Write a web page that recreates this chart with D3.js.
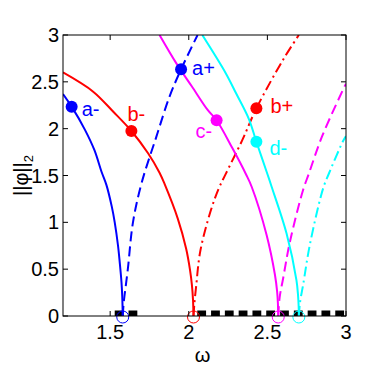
<!DOCTYPE html>
<html>
<head>
<meta charset="utf-8">
<script src="https://cdn.jsdelivr.net/npm/d3@7"></script>
<style>
  body { margin: 0; background: #fff; }
  text { font-family: "Liberation Sans", Arial, sans-serif; }
</style>
</head>
<body>
<script>
// curve data: [omega, norm]
const aMinus = [[1.2,2.37],[1.255,2.235],[1.339,1.99],[1.40,1.77],[1.445,1.54],[1.476,1.40],[1.51,1.17],[1.529,1.0],[1.55,0.75],[1.561,0.57],[1.572,0.36],[1.577,0.2],[1.58,0]];
const aPlus = [[1.58,0],[1.586,0.14],[1.599,0.32],[1.613,0.51],[1.645,1.0],[1.70,1.42],[1.793,1.91],[1.877,2.34],[1.951,2.634],[2.056,3.0]];
const bMinus = [[1.2,2.60],[1.392,2.395],[1.52,2.18],[1.635,1.975],[1.74,1.74],[1.814,1.53],[1.846,1.41],[1.93,1.04],[1.983,0.72],[2.008,0.49],[2.02,0.33],[2.027,0.17],[2.03,0]];
const bPlus = [[2.03,0],[2.036,0.14],[2.047,0.32],[2.073,0.69],[2.137,1.11],[2.19,1.36],[2.236,1.52],[2.341,1.88],[2.43,2.217],[2.605,2.75],[2.70,3.0]];
const cMinus = [[1.814,3.0],[1.92,2.70],[2.02,2.45],[2.12,2.20],[2.177,2.09],[2.278,1.79],[2.363,1.516],[2.40,1.38],[2.495,0.865],[2.548,0.44],[2.562,0.26],[2.567,0.13],[2.569,0]];
const cPlus = [[2.569,0],[2.578,0.2],[2.60,0.40],[2.643,0.79],[2.727,1.345],[2.763,1.516],[2.847,1.914],[2.985,2.43],[3.0,2.48]];
const dMinus = [[2.086,3.0],[2.236,2.59],[2.30,2.38],[2.383,2.10],[2.43,1.86],[2.50,1.516],[2.527,1.38],[2.622,0.88],[2.685,0.38],[2.695,0.22],[2.699,0.1],[2.70,0]];
const dPlus = [[2.70,0],[2.708,0.15],[2.727,0.33],[2.77,0.76],[2.854,1.36],[2.89,1.516],[2.985,1.88],[3.0,1.92]];

// marked solutions
const dotNames = ["a-", "b-", "a+", "c-", "b+", "d-"];
const dotOmega = [1.255, 1.635, 1.951, 2.177, 2.43, 2.43];
const dotNorm = [2.235, 1.975, 2.634, 2.09, 2.217, 1.86];

// bifurcation points on the axis
const bifOmega = [1.58, 2.03, 2.569, 2.70];

// continuous spectrum bands
const bands = [[1.529, 1.684], [2.054, 3.0]];

const xTicks = [1.5, 2, 2.5, 3];
const yTicks = [0, 0.5, 1, 1.5, 2, 2.5, 3];

const W = 382, H = 369;
const margin = { top: 35, right: 36, bottom: 53, left: 63 };
const width = W - margin.left - margin.right;
const height = H - margin.top - margin.bottom;

const svg = d3.select("body").append("svg")
  .attr("width", W)
  .attr("height", H)
  .style("background", "#fff");

const g = svg.append("g")
  .attr("transform", `translate(${margin.left},${margin.top})`);

const x = d3.scaleLinear().domain([1.2, 3]).range([0, width]);
const y = d3.scaleLinear().domain([0, 3]).range([height, 0]);

g.append("clipPath").attr("id", "clip")
  .append("rect").attr("width", width).attr("height", height);

const plot = g.append("g").attr("clip-path", "url(#clip)");

// black dashed spectrum line on omega axis
bands.forEach(b => {
  plot.append("line")
    .attr("x1", x(b[0])).attr("x2", x(b[1]))
    .attr("y1", y(0)).attr("y2", y(0))
    .attr("stroke", "#000")
    .attr("stroke-width", 11)
    .attr("stroke-dasharray", "8.8,5");
});

const line = d3.line()
  .x(d => x(d[0]))
  .y(d => y(d[1]))
  .curve(d3.curveCatmullRom.alpha(0.5));

const series = [
  { data: aMinus, color: "#0000ff", dash: null },
  { data: aPlus, color: "#0000ff", dash: "10,5" },
  { data: bMinus, color: "#ff0000", dash: null },
  { data: bPlus, color: "#ff0000", dash: "10,4,2,4" },
  { data: cMinus, color: "#ff00ff", dash: null },
  { data: cPlus, color: "#ff00ff", dash: "10,5" },
  { data: dMinus, color: "#00ffff", dash: null },
  { data: dPlus, color: "#00ffff", dash: "10,4,2,4" }
];

series.forEach(s => {
  plot.append("path")
    .datum(s.data)
    .attr("d", line)
    .attr("fill", "none")
    .attr("stroke", s.color)
    .attr("stroke-width", 2)
    .attr("stroke-dasharray", s.dash);
});

// open circles at bifurcation points
const bifColors = ["#0000ff", "#ff0000", "#ff00ff", "#00ffff"];
g.selectAll(".bif")
  .data(bifOmega)
  .enter().append("circle")
  .attr("cx", d => x(d))
  .attr("cy", y(0) + 1)
  .attr("r", 6)
  .attr("fill", "none")
  .attr("stroke", (d, i) => bifColors[i])
  .attr("stroke-width", 1);

// filled dots and their labels
const dotColors = ["#0000ff", "#ff0000", "#0000ff", "#ff00ff", "#ff0000", "#00ffff"];
const labelDx = [10, -4, 11, -21, 14, 13];
const labelDy = [9, -10, 6, 18, 5, 13];

dotNames.forEach((name, i) => {
  const cx = x(dotOmega[i]), cy = y(dotNorm[i]);
  g.append("circle")
    .attr("cx", cx).attr("cy", cy)
    .attr("r", 6)
    .attr("fill", dotColors[i]);
  g.append("text")
    .attr("x", cx + labelDx[i])
    .attr("y", cy + labelDy[i])
    .attr("fill", dotColors[i])
    .style("font-size", "20px")
    .text(name);
});

// axes box with inward ticks
g.append("rect")
  .attr("width", width).attr("height", height)
  .attr("fill", "none").attr("stroke", "#000").attr("stroke-width", 1);

const tl = 5;
xTicks.forEach(t => {
  g.append("line").attr("x1", x(t)).attr("x2", x(t))
    .attr("y1", height).attr("y2", height - tl).attr("stroke", "#000");
  g.append("line").attr("x1", x(t)).attr("x2", x(t))
    .attr("y1", 0).attr("y2", tl).attr("stroke", "#000");
  g.append("text")
    .attr("x", x(t)).attr("y", height + 23)
    .attr("text-anchor", "middle")
    .style("font-size", "20px")
    .text(t);
});

yTicks.forEach(t => {
  g.append("line").attr("x1", 0).attr("x2", tl)
    .attr("y1", y(t)).attr("y2", y(t)).attr("stroke", "#000");
  g.append("line").attr("x1", width).attr("x2", width - tl)
    .attr("y1", y(t)).attr("y2", y(t)).attr("stroke", "#000");
  g.append("text")
    .attr("x", -4).attr("y", y(t) + 7)
    .attr("text-anchor", "end")
    .style("font-size", "20px")
    .text(t);
});

// axis labels
g.append("text")
  .attr("x", width / 2 - 2).attr("y", height + 46)
  .attr("text-anchor", "middle")
  .style("font-size", "20px")
  .text("ω");

const yl = g.append("text")
  .attr("transform", `translate(-35,${height / 2}) rotate(-90)`)
  .attr("text-anchor", "middle")
  .style("font-size", "20px");
yl.append("tspan").text("||φ||");
yl.append("tspan").attr("dy", 5).style("font-size", "13px").text("2");
</script>
</body>
</html>
